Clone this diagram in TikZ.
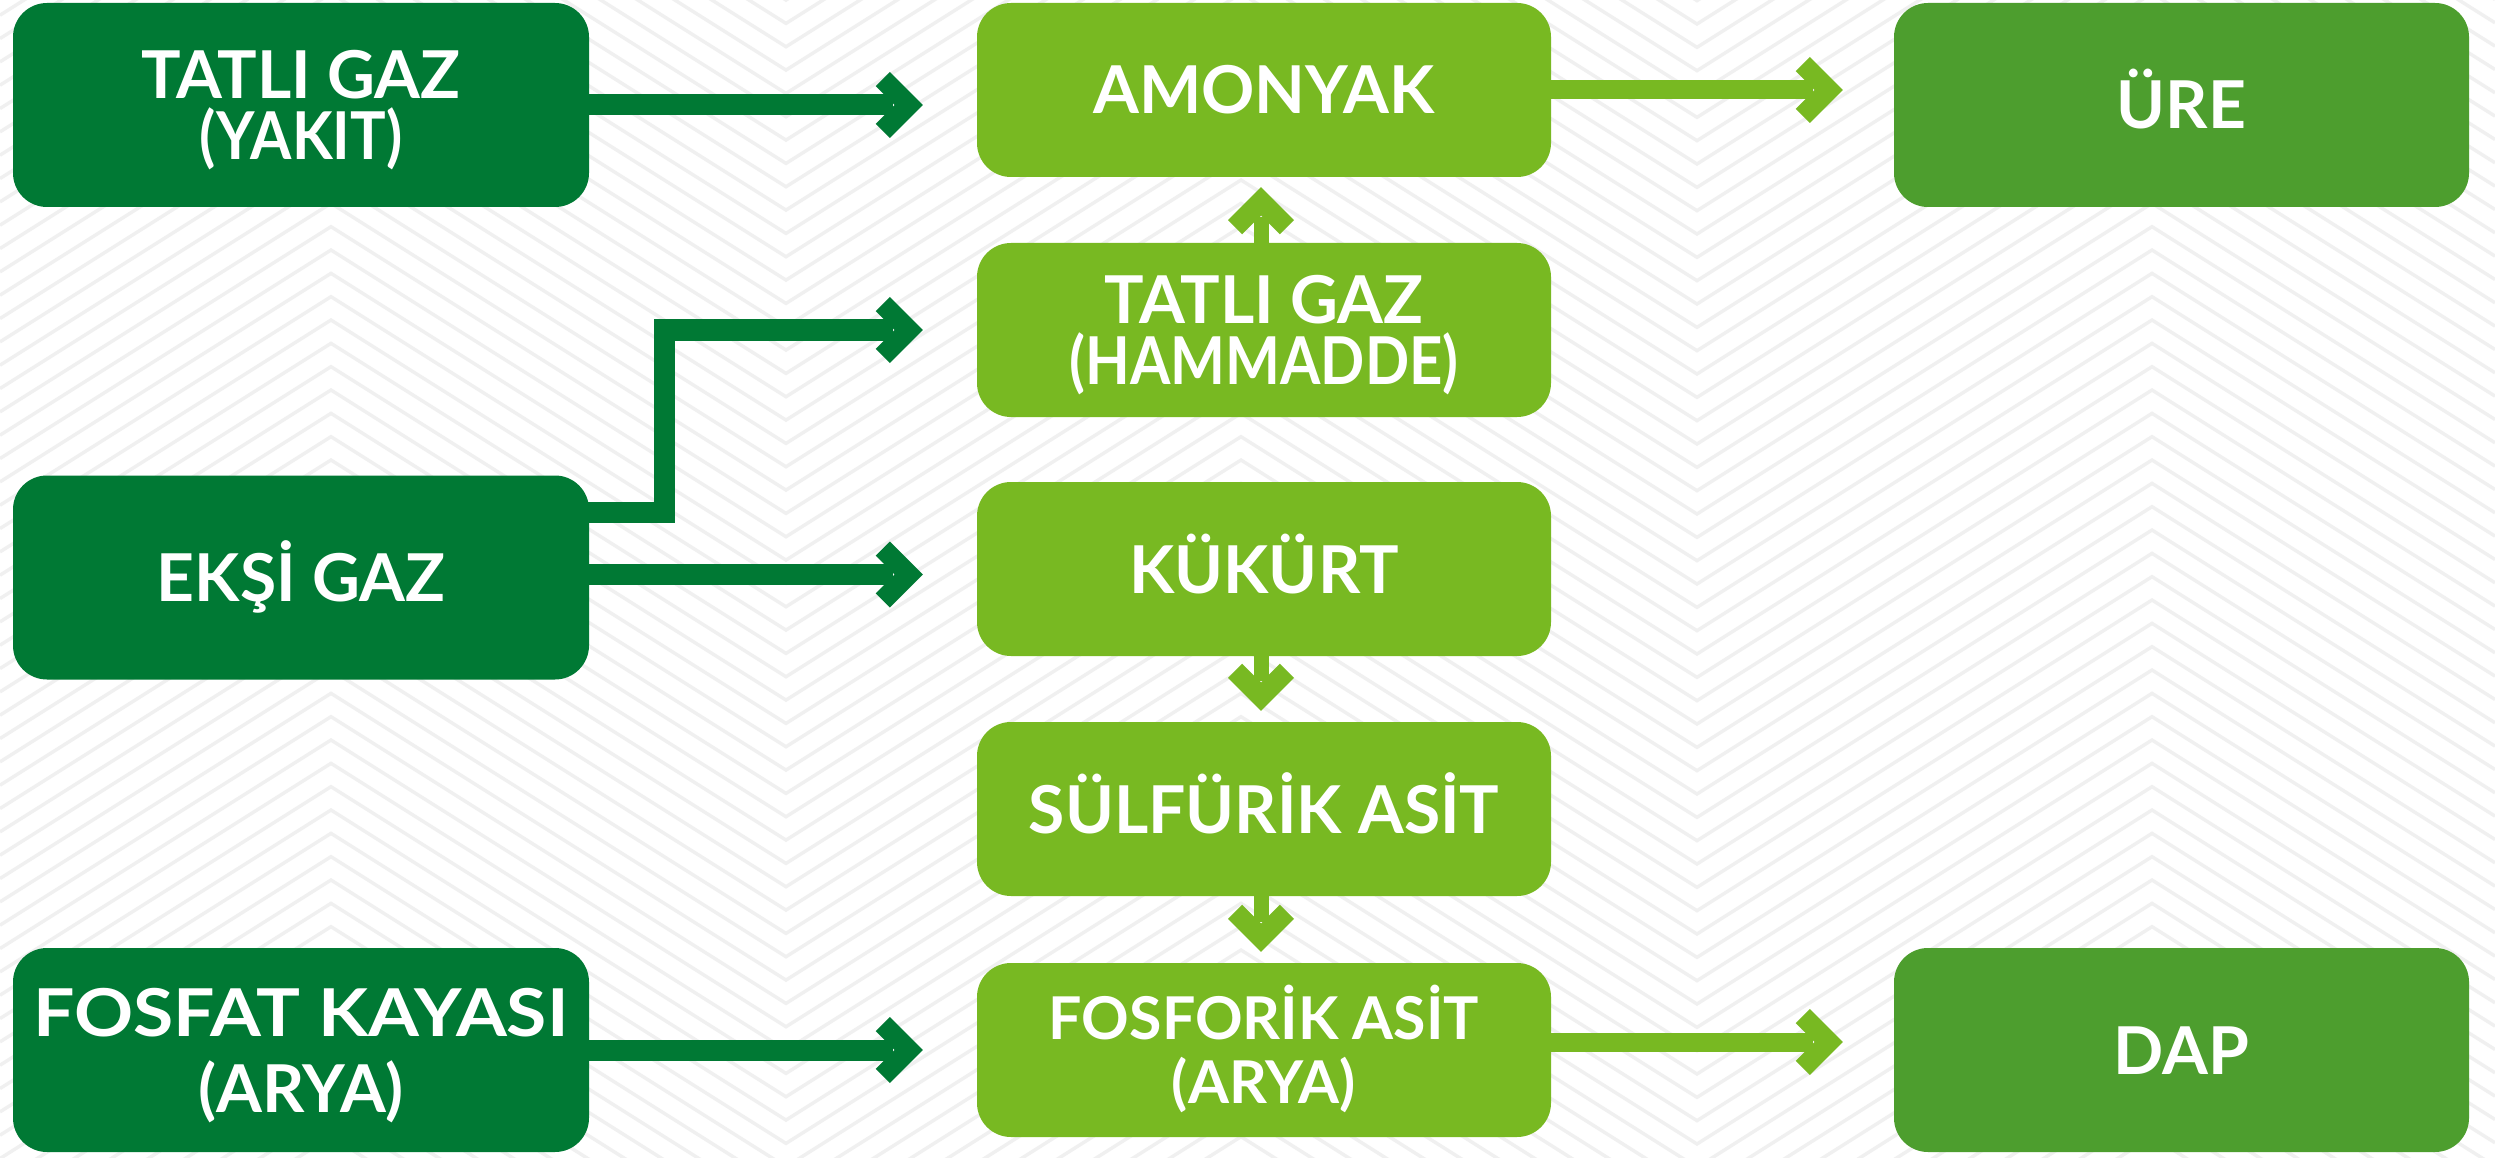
\documentclass[tikz,border=0pt]{standalone}
\usepackage{fontspec}
\setmainfont{Lato}
\usetikzlibrary{calc}
\definecolor{dkgreen}{RGB}{0,121,52}
\definecolor{lime}{RGB}{120,185,34}
\definecolor{midgreen}{RGB}{77,158,46}
\definecolor{bgline}{RGB}{240,240,240}
\begin{document}
\begin{tikzpicture}[x=1pt,y=-1pt,
  box/.style={rectangle, rounded corners=34pt, minimum width=576pt, text=white,
    font=\fontsize{66}{61}\selectfont\bfseries, align=center, inner sep=0pt},
  onel/.style={text height=48pt, text depth=0pt},
  twol/.style={text height=109pt, text depth=0pt},
  leftbox/.style={box, fill=dkgreen, minimum height=204pt},
  midbox/.style={box, fill=lime, minimum width=574pt, minimum height=174pt},
  rightbox/.style={box, fill=midgreen, minimum width=575pt, minimum height=204pt},
  dshaft/.style={draw=dkgreen, line width=21pt, line join=miter, shorten >=30pt},
  lshaft/.style={draw=lime, line width=19pt, shorten >=30pt},
  vshaft/.style={draw=lime, line width=15pt, shorten >=30pt},
  chev/.pic={\fill (0,0) -- (-33,-33) -- (-47.1,-18.9) -- (-28.3,0) -- (-47.1,18.9) -- (-33,33) -- cycle;}
]
\useasboundingbox (0,0) rectangle (2495,1158);
\fill[white] (0,0) rectangle (2495,1158);
\begin{scope}
\clip (0,0) rectangle (2495,1158);
\foreach \n in {-14,...,50}{
  \pgfmathsetmacro{\c}{16.7+23.333*\n}
  \draw[bgline, line width=3.4pt, line join=miter] (0,\c+208.5) -- (331,\c) -- (786,\c+286.7) -- (1241,\c) -- (1697,\c+287.3) -- (2152,\c) -- (2495,\c+216.1);
}
\end{scope}

\node[leftbox,twol] (L1) at (301,105) {TATLI GAZ\\\scalebox{0.9}[1]{(YAKIT)}};
\node[leftbox,onel] (L2) at (301,577.5) {EKŞİ GAZ};
\node[leftbox,text height=124pt, text depth=0pt, font=\fontsize{66}{76}\selectfont\bfseries] (L3) at (301,1050) {\scalebox{1.11}[1]{FOSFAT KAYASI}\\(ARYA)};
\node[midbox,onel] (M1) at (1264,90) {AMONYAK};
\node[midbox,twol] (M2) at (1264,330) {TATLI GAZ\\\scalebox{0.88}[1]{(HAMMADDE)}};
\node[midbox,onel] (M3) at (1264,569) {KÜKÜRT};
\node[midbox,onel] (M4) at (1264,809) {SÜLFÜRİK ASİT};
\node[midbox,text height=106pt, text depth=0pt, font=\fontsize{59}{64}\selectfont\bfseries] (M5) at (1264,1050) {FOSFORİK ASİT\\(ARYA)};
\node[rightbox,onel] (R1) at (2181.5,105) {ÜRE};
\node[rightbox,onel] (R2) at (2181.5,1050) {DAP};

% dark arrows
\coordinate (t1) at ($(M1.west |- L1.east)+(-54,0)$);
\draw[dshaft] ($(L1.east)+(-10,0)$) -- (t1);
\path (t1) pic[dkgreen]{chev};

\coordinate (t2) at ($(M2.west)+(-54,0)$);
\coordinate (e2) at ($(L2.east)+(-10,-65)$);
\coordinate (b2) at (664,0);
\draw[dshaft] (e2) -| (b2 |- t2) -- (t2);
\path (t2) pic[dkgreen]{chev};

\coordinate (t3) at ($(M3.west |- L2.east)+(-54,-3)$);
\draw[dshaft] ($(L2.east)+(-10,-3)$) -- (t3);
\path (t3) pic[dkgreen]{chev};

\coordinate (t4) at ($(M5.west |- L3.east)+(-54,0)$);
\draw[dshaft] ($(L3.east)+(-10,0)$) -- (t4);
\path (t4) pic[dkgreen]{chev};

% lime arrows
\coordinate (t5) at ($(R1.west |- M1.east)+(-51,0)$);
\draw[lshaft] ($(M1.east)+(-10,0)$) -- (t5);
\path (t5) pic[lime]{chev};

\coordinate (t6) at ($(R2.west |- M5.east)+(-51,-8)$);
\draw[lshaft] ($(M5.east)+(-10,-8)$) -- (t6);
\path (t6) pic[lime]{chev};

\coordinate (t7) at ($(M1.south)+(-3,10)$);
\draw[vshaft] ($(M2.north)+(-3,10)$) -- (t7);
\path (t7) pic[lime,rotate=90]{chev};

\coordinate (t8) at ($(M4.north)+(-3,-11)$);
\draw[vshaft] ($(M3.south)+(-3,-10)$) -- (t8);
\path (t8) pic[lime,rotate=-90]{chev};

\coordinate (t9) at ($(M5.north)+(-3,-11)$);
\draw[vshaft] ($(M4.south)+(-3,-10)$) -- (t9);
\path (t9) pic[lime,rotate=-90]{chev};
\end{tikzpicture}
\end{document}
